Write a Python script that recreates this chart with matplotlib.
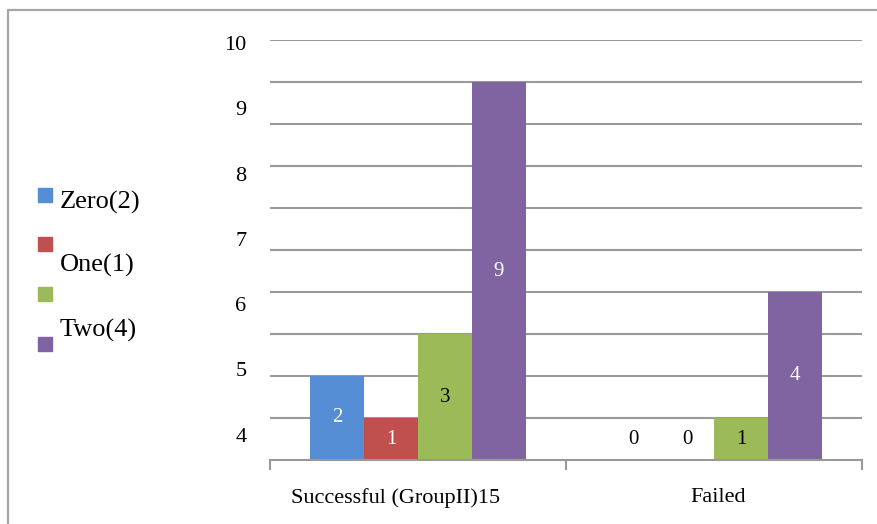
import numpy as np
import matplotlib
matplotlib.use("Agg")
import matplotlib.pyplot as plt
import matplotlib.transforms as mtransforms
from matplotlib.patches import Rectangle
from matplotlib.lines import Line2D

# データ
categories = ["Successful (GroupII)15", "Failed"]
series_names = ["Zero", "One", "Two(a)", "Two(b)"]
zero_vals = [2, 0]
one_vals = [1, 0]
green_vals = [3, 1]
purple_vals = [9, 4]
colors = ["#558ed5", "#c0504d", "#9bbb59", "#8064a2"]
label_colors = ["white", "white", "black", "white"]
ytick_labels = ["10", "9", "8", "7", "6", "5", "4"]
legend_texts = ["Zero(2)", "One(1)", "Two(4)"]

plt.rcParams["font.family"] = ["Liberation Serif", "DejaVu Serif"]

fig = plt.figure(figsize=(8.77, 5.24), dpi=100)
W, H = 877, 524

def fx(px):
    return px / W

def fy(py):
    return 1 - py / H

# 外枠（上と左だけ見えている）
fig.lines.append(Line2D([fx(8), fx(8), 1], [0, fy(10), fy(10)], transform=fig.transFigure,
                        color="#a6a6a6", linewidth=1.6))

ax = fig.add_axes([fx(270), fy(460), fx(592), 420 / H])
ax.set_xlim(-0.5, 1.5)
ax.set_ylim(0, 10)

all_vals = [zero_vals, one_vals, green_vals, purple_vals]
x = np.arange(len(categories))
bw = 54 / 296
offsets = (np.arange(4) - 1.5) * bw

# 目盛り線（整数位置）
for yv in range(1, 11):
    ax.axhline(yv, color="#999999", linewidth=1.5, zorder=0)

for i, vals in enumerate(all_vals):
    bars = ax.bar(x + offsets[i], vals, width=bw, color=colors[i], zorder=2)
    for b, v in zip(bars, vals):
        if v == 0:
            ty, c = 0.5, "black"
        else:
            ty, c = v / 2, label_colors[i]
        ax.text(b.get_x() + b.get_width() / 2, ty, str(v), ha="center", va="center",
                color=c, fontsize=15, zorder=3)

# y軸ラベル（元画像の位置に合わせる）
ax.set_yticks(np.linspace(9.93, 0.6, len(ytick_labels)))
ax.set_yticklabels(ytick_labels, fontsize=16)
ax.tick_params(axis="y", length=0, pad=17)

ax.set_xticks([-0.5, 0.5, 1.5], minor=True)
ax.set_xticks(x)
ax.set_xticklabels(categories, fontsize=16)
ax.tick_params(axis="x", which="major", length=0, pad=20)
ax.tick_params(axis="x", which="minor", length=7, color="#999999", width=1.5, direction="out")

# 元画像では左のラベルが少し左にずれている
shifts = [-22, 4]
for lbl, dx in zip(ax.get_xticklabels(), shifts):
    lbl.set_transform(lbl.get_transform() + mtransforms.ScaledTranslation(dx / 100, 0, fig.dpi_scale_trans))

for s in ["top", "right", "left"]:
    ax.spines[s].set_visible(False)
ax.spines["bottom"].set_color("#999999")
ax.spines["bottom"].set_linewidth(1.5)

# 凡例（手動配置）
marker_tops = [188, 237, 287, 337]
for top, c in zip(marker_tops, colors):
    fig.patches.append(Rectangle((fx(38), fy(top + 14)), fx(14), 14 / H,
                                 transform=fig.transFigure, color=c))
text_ys = [202, 265, 330]
for t, yy in zip(legend_texts, text_ys):
    fig.text(fx(60), fy(yy), t, fontsize=19, va="center", ha="left")

fig.savefig("out.png", dpi=100)
